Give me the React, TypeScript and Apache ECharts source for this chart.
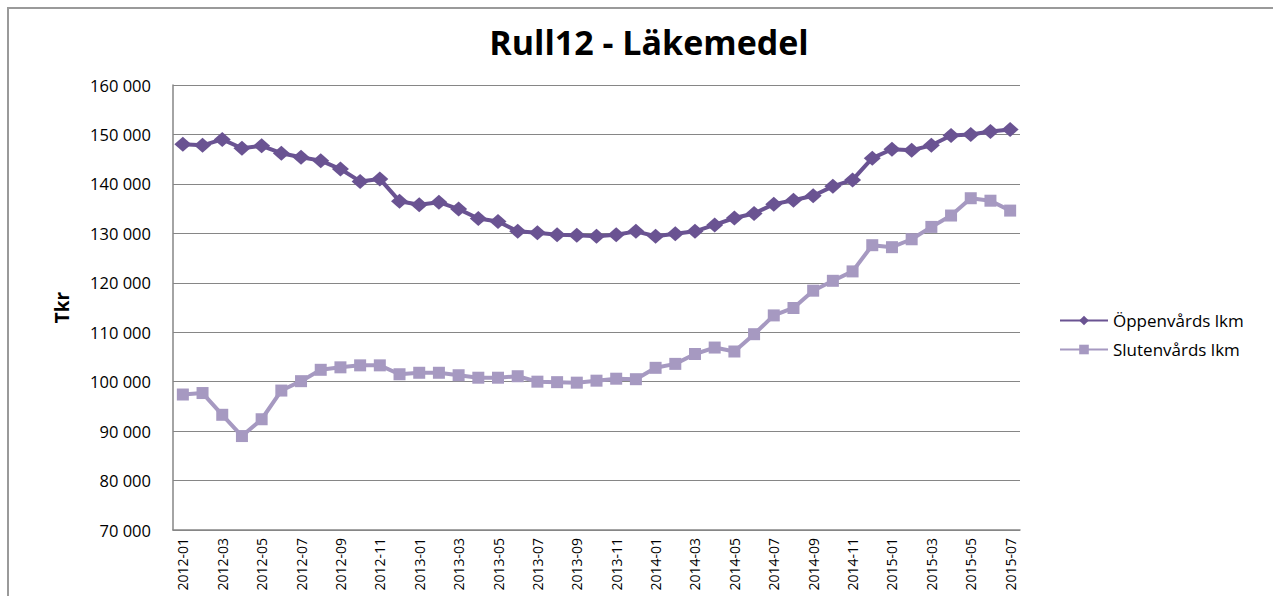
import React, { useEffect, useRef } from "react";
import * as echarts from "echarts";

const months: string[] = [
  "2012-01","2012-02","2012-03","2012-04","2012-05","2012-06","2012-07","2012-08","2012-09","2012-10","2012-11","2012-12",
  "2013-01","2013-02","2013-03","2013-04","2013-05","2013-06","2013-07","2013-08","2013-09","2013-10","2013-11","2013-12",
  "2014-01","2014-02","2014-03","2014-04","2014-05","2014-06","2014-07","2014-08","2014-09","2014-10","2014-11","2014-12",
  "2015-01","2015-02","2015-03","2015-04","2015-05","2015-06","2015-07",
];

const oppenvards: number[] = [
  148000, 147800, 149000, 147200, 147700, 146200, 145400, 144700, 143000, 140500, 141000, 136500,
  135800, 136300, 134900, 133000, 132400, 130400, 130100, 129700, 129600, 129400, 129700, 130400,
  129400, 129900, 130400, 131700, 133100, 134000, 135900, 136700, 137600, 139500, 140800, 145200,
  147000, 146800, 147800, 149800, 150000, 150600, 151000,
];

const slutenvards: number[] = [
  97400, 97700, 93300, 89000, 92400, 98200, 100100, 102400, 102900, 103300, 103300, 101500,
  101800, 101800, 101300, 100800, 100800, 101100, 100000, 99900, 99800, 100200, 100600, 100500,
  102800, 103600, 105600, 106900, 106100, 109600, 113400, 114900, 118400, 120400, 122300, 127600,
  127200, 128800, 131300, 133600, 137100, 136600, 134600,
];

const seriesNames: string[] = ["Öppenvårds lkm", "Slutenvårds lkm"];

const fmt = (v: number) => {
  const s = String(Math.round(v));
  return s.replace(/\B(?=(\d{3})+(?!\d))/g, " ");
};

export default function App() {
  const ref = useRef<HTMLDivElement>(null);
  useEffect(() => {
    if (!ref.current) return;
    const chart = echarts.init(ref.current, undefined, { renderer: "svg" });
    const font = "'Open Sans', 'Noto Sans', sans-serif";
    chart.setOption({
      animation: false,
      backgroundColor: "#ffffff",
      textStyle: { fontFamily: font },
      title: {
        text: "Rull12 - Läkemedel",
        left: 644,
        top: 20,
        textAlign: "center",
        textStyle: { fontFamily: font, fontSize: 34, fontWeight: "bold", color: "#000" },
      },
      graphic: [
        {
          type: "rect",
          shape: { x: 8, y: 8, width: 1400, height: 700 },
          style: { fill: "none", stroke: "#9a9a9a", lineWidth: 2 },
          silent: true,
        },
      ],
      legend: {
        orient: "vertical",
        left: 1054,
        top: 307,
        itemWidth: 48,
        itemHeight: 12,
        itemGap: 12,
        textStyle: { fontFamily: font, fontSize: 17, color: "#000", padding: [0, 0, 0, 0] },
        data: [seriesNames[0], seriesNames[1]],
      },
      grid: { left: 173, top: 85, right: 253, bottom: 66, containLabel: false },
      xAxis: {
        type: "category",
        data: months,
        boundaryGap: true,
        axisLine: { show: true, lineStyle: { color: "#868686", width: 1.5 } },
        axisTick: { show: false },
        axisLabel: {
          interval: 1,
          rotate: 90,
          fontSize: 14,
          color: "#000",
          fontFamily: font,
          margin: 8,
        },
      },
      yAxis: {
        type: "value",
        min: 70000,
        max: 160000,
        interval: 10000,
        name: "Tkr",
        nameLocation: "middle",
        nameGap: 102,
        nameRotate: 90,
        nameTextStyle: { fontFamily: font, fontSize: 19, fontWeight: "bold", color: "#000" },
        axisLine: { show: true, lineStyle: { color: "#868686", width: 1.5 } },
        axisTick: { show: false },
        splitLine: { show: true, lineStyle: { color: "#868686", width: 1.2 } },
        axisLabel: {
          formatter: (v: number) => fmt(v),
          fontSize: 16.5,
          color: "#000",
          fontFamily: font,
          margin: 22,
        },
      },
      series: [
        {
          name: seriesNames[0],
          type: "line",
          data: oppenvards,
          symbol: "diamond",
          symbolSize: [17, 15],
          showSymbol: true,
          showAllSymbol: true,
          itemStyle: { color: "#6a5392" },
          lineStyle: { color: "#6a5392", width: 4 },
          z: 3,
        },
        {
          name: seriesNames[1],
          type: "line",
          data: slutenvards,
          symbol: "rect",
          symbolSize: 12,
          showSymbol: true,
          showAllSymbol: true,
          itemStyle: { color: "#a699c1" },
          lineStyle: { color: "#a699c1", width: 4 },
          z: 2,
        },
      ],
    });
    return () => chart.dispose();
  }, []);
  return (
    <div
      ref={ref}
      style={{ position: "fixed", left: 0, top: 0, width: 1273, height: 596 }}
    />
  );
}
